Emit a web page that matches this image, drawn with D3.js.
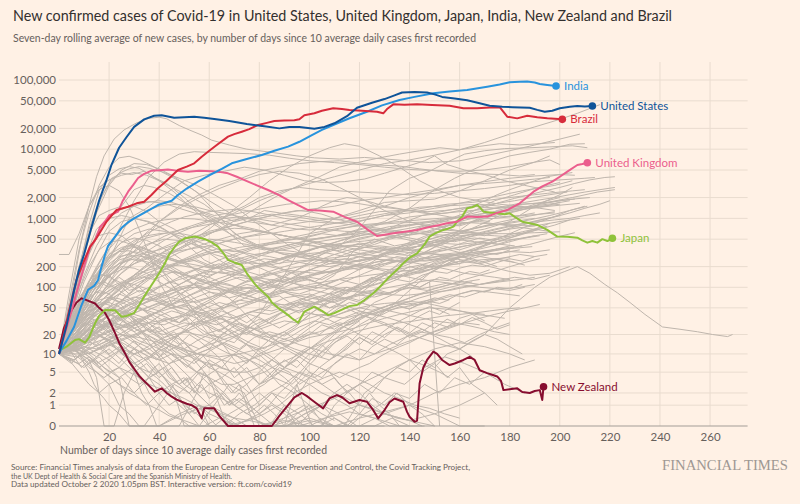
<!DOCTYPE html>
<html><head><meta charset="utf-8">
<script src="https://cdn.jsdelivr.net/npm/d3@7"></script>
<style>
html,body{margin:0;padding:0;background:#fff1e5;}
svg{display:block;font-family:Lato,'Noto Sans',sans-serif;}
</style></head><body>
<svg id="chart" width="800" height="504"></svg>
<script>
// ---------- text ----------
const titleText = "New confirmed cases of Covid-19 in United States, United Kingdom, Japan, India, New Zealand and Brazil";
const subtitleText = "Seven-day rolling average of new cases, by number of days since 10 average daily cases first recorded";
const xAxisTitle = "Number of days since 10 average daily cases first recorded";
const sourceLines = [
  "Source: Financial Times analysis of data from the European Centre for Disease Prevention and Control, the Covid Tracking Project,",
  "the UK Dept of Health & Social Care and the Spanish Ministry of Health.",
  "Data updated October 2 2020 1.05pm BST. Interactive version: ft.com/covid19"
];
const brandText = "FINANCIAL TIMES";

// ---------- ticks ----------
const xTicks = [20,40,60,80,100,120,140,160,180,200,220,240,260];
const yTicks = [0,1,2,5,10,20,50,100,200,500,1000,2000,5000,10000,20000,50000,100000];

// ---------- highlighted series: [day, 7-day avg cases] ----------
const countries = ["New Zealand","Japan","United Kingdom","India","Brazil","United States"];
const countryColors = ["#870d2f","#8fc23a","#eb5e8d","#2893dd","#d72b3b","#0f5499"];

const usData = [[0,10],[3,27],[6,90],[8,180],[10,300],[13,750],[16,1800],[19,3600],[21,6000],[24,10500],[27,15000],[30,21000],[34,27000],[38,30500],[41,31000],[46,28500],[50,29000],[54,29500],[58,28500],[62,27300],[68,25500],[75,23100],[82,21500],[88,20000],[92,21000],[96,21000],[102,19800],[106,21000],[110,23700],[115,30000],[119,39800],[125,47000],[130,53000],[134,60000],[137,66000],[142,67000],[147,66000],[150,62000],[153,57000],[158,54000],[163,51000],[168,46000],[172,42500],[177,41000],[181,40500],[188,39800],[191,37000],[194,34800],[197,36000],[200,39000],[204,41000],[207,42100],[210,41500],[213,42000]];

const indiaData = [[0,10],[1,12],[3,16],[6,26],[9,55],[11.6,92],[14,105],[15.6,128],[17,200],[18.4,300],[19.6,400],[22.4,545],[25,730],[28,900],[30,1000],[34,1200],[39.5,1560],[45,1800],[47.5,2180],[51,2700],[55.5,3390],[60,4200],[65,5200],[69,6250],[75,7200],[81,8240],[86,9500],[91.5,10900],[96,12800],[101,16000],[105,19000],[109.5,22400],[116,28000],[123,34800],[129,43000],[136,51400],[142,57000],[149.5,64300],[156,68000],[163,71700],[171,80000],[176,86000],[180,92500],[184,94000],[187,95000],[190,92000],[192,87600],[195,85000],[198.5,81900]];

const ukData = [[0,10],[3,25],[5,45],[7,83],[10,200],[12.4,386],[14.4,480],[16.4,750],[18.4,900],[20,1100],[23.6,1250],[25.5,1800],[27.6,2430],[29.5,3000],[31.6,3840],[34,4400],[37,4890],[40,4950],[43.5,5100],[47,4900],[51.5,4730],[56,4900],[61,4800],[64,4700],[67.5,4480],[71,4000],[75.5,3390],[79,3000],[83.5,2570],[87.5,2200],[91.5,1840],[95.5,1550],[99.5,1320],[104,1300],[109.5,1250],[114,1050],[119,895],[123,700],[127,556],[130,580],[133.5,608],[138,640],[143,680],[147,740],[152,803],[155,850],[159,895],[163,1060],[167,1050],[171,1060],[175,1200],[179,1320],[184,1650],[189.5,2430],[193,2900],[197,3390],[200,4000],[203,4730],[207,5910],[209,6100],[211,6380]];

const brazilData = [[0,10],[1.7,19],[4,45],[7,128],[9.5,220],[12.4,386],[15,520],[19,900],[21,1100],[23,1320],[25.5,1400],[27.6,1475],[31,1650],[34,1740],[37,2200],[39.5,2720],[43,3500],[47.5,5000],[51,5600],[54,6250],[57,7800],[59.5,9200],[63,11500],[67.5,15200],[70,16500],[73,17900],[76,19500],[79.5,22400],[83,24000],[86,25600],[90,26000],[94,26200],[96,27000],[98,31000],[102,33000],[105,36000],[109.5,39000],[113,38000],[116,36800],[121,36000],[127,34800],[129.5,33000],[131,38000],[133.5,44500],[138,44000],[143,44500],[149,43500],[156,42500],[161.5,39000],[167,39000],[172,40000],[176,40500],[179,29500],[183,27900],[187,30500],[191,29000],[195,27900],[198,27500],[201,27000]];

const japanData = [[0,10],[0.4,11.5],[3,13],[6.4,16.5],[8,17],[10.4,15],[12,18],[14.4,29.5],[16,38],[18.4,46.5],[22.4,46],[25,37],[27,38],[30,42],[32,55],[34,73],[36,95],[38.3,128],[40,160],[42.3,224],[44,300],[46.3,390],[48,460],[50.3,515],[54.3,545],[58.3,500],[61,450],[63.5,390],[66,300],[67.5,250],[70,230],[73,211],[75,160],[78,114],[80,95],[83.5,73],[85,60],[87.5,50],[91.5,39],[93,35],[95.5,30],[98,44],[102,52],[105,45],[107.5,39],[110,42],[113,47],[116,53],[119,55],[122,65],[125.5,82],[128,100],[132,143],[135,180],[137.5,224],[140,270],[143,312],[146,420],[148,545],[150,600],[153.5,680],[155,700],[157.5,758],[159,900],[161,1060],[163,1400],[165,1450],[167,1560],[168,1450],[169.5,1250],[172,1220],[175,1185],[178,1150],[180,1185],[182,1050],[185,895],[188,850],[191,803],[195,680],[199,545],[203,540],[207,525],[209,480],[211,445],[213,470],[215,445],[217,500],[219,470],[221,515]];

const nzData = [[0,12],[2,25],[5,46],[7,60],[9,69],[11,65],[14.4,58],[16,50],[18.4,42],[20,33],[22.4,21],[24,15],[26.4,10.2],[28,7.5],[30.4,5.4],[32,4.3],[34.3,3.37],[36,2.8],[38.3,2.13],[41,2.5],[43,2],[45,1.65],[47,1.4],[49,1.24],[51,1.1],[53,1],[55,0.8],[57,0.29],[58,0.8],[62,0.8],[64,0.4],[67.5,0],[72,0],[80,0],[85,0],[88,0.4],[91.5,1],[94,1.6],[97,2],[99,1.7],[101,1.38],[103,1.1],[105.5,0.8],[108,1.5],[111,1.8],[113,1.6],[116,1.13],[120,1.38],[123,1.24],[125,0.8],[127.5,0.29],[130,0.7],[132,1.2],[134,1.5],[137.5,1.24],[139,0.6],[140,0.36],[142,0.15],[143,0.2],[144,3.1],[145.5,6],[147,8],[149.5,10.9],[151,10],[153,8],[156,6.6],[158,7],[161.5,8],[164,9],[166,8],[168,5.4],[171,4.8],[173,4.5],[175,4.2],[176.5,3.5],[177.5,2.3],[180,2.4],[183,2.5],[185,2.1],[188,2.0],[190,2.2],[192,2.3],[192.5,1.8],[193,1.38],[193.5,2.7]];

const countrySeries = [nzData, japanData, ukData, indiaData, brazilData, usData];

// ---------- background countries: flat lists of day,value ----------
const greyLines = [
[0,10,3,30,6,120,9,500,12,1500,15,4000,18,8000,22,14000,26,19000,31,24000,36,28000,40,29000,43,27500,48,22000,52,19000,57,16000,61,13500,68,11500,75,10000,85,9000,95,8000,102,7500,112,7200,122,7600,135,7000,148,6400,160,6800,170,8000,180,9500,190,11500,200,14000,208,16500],
[0,10,4,40,8,200,12,700,16,1800,20,3200,24,4500,28,5200,32,5600,36,5300,42,4600,48,3800,55,3000,62,2200,70,1500,78,900,85,600,92,400,100,280,108,220,116,230,125,260,135,240,145,300,155,500,165,900,175,1300,185,1600,195,1700,205,2000,215,2400,222,2600],
[0,10,4,60,8,350,12,1200,16,3000,20,5500,24,7500,28,7900,32,7100,37,5800,42,4500,48,3500,55,2400,62,1300,70,600,80,380,90,300,100,260,110,350,118,600,125,1200,132,2500,140,3800,148,4800,155,6500,162,8500,170,9500,178,10200,188,10500,196,10800,205,11200,211,10500],
[0,10,5,50,9,250,13,800,17,2000,21,3800,25,4500,29,4300,34,4800,38,3900,43,3200,50,2000,58,1100,66,700,74,400,82,350,90,400,100,480,110,550,120,700,130,900,140,1400,150,2600,158,3800,165,5000,172,6500,180,8000,188,9000,196,10000,204,11800,210,12000],
[0,10,4,35,8,180,12,800,16,2500,20,4200,24,5200,28,5600,32,5300,36,4400,40,3500,46,2400,52,1500,58,1000,65,700,72,500,80,380,88,360,96,420,106,380,115,450,125,550,135,800,145,1100,155,1300,165,1500,175,1400,185,1600,195,1700,205,1900,212,2000],
[0,10,6,30,12,80,18,250,24,700,30,1800,36,4000,42,6500,48,8500,54,9200,60,9000,68,8800,76,8600,84,8200,92,7400,100,6800,110,6400,120,6000,130,5500,140,5100,150,4900,160,4800,170,5000,180,5600,190,6500,196,8000],
[0,10,4,50,8,200,12,600,16,1100,20,1300,25,1500,30,2600,34,3000,38,2800,44,2300,50,1700,56,1300,62,1100,68,1200,74,1500,80,2000,88,2500,96,2800,104,2600,112,2500,120,2400,130,2300,140,2200,150,2300,160,2500,170,2700,180,3000,190,3400,200,3600,210,3800,214,3900],
[0,10,4,80,8,500,12,1500,16,2800,20,3600,25,4200,30,4600,35,4200,40,3500,46,2700,52,2100,58,1600,64,1100,70,900,76,1000,82,1300,88,1200,96,1100,104,1000,112,950,120,1100,128,1250,136,1300,144,1450,152,1500,160,1550,168,1600,176,1500,180,1400,188,1450,196,1550,200,1600],
[0,10,8,25,16,70,24,200,32,500,40,900,48,1500,56,2200,64,3000,72,3700,80,4800,88,5500,96,6200,104,6600,112,6800,120,6300,128,5900,136,5700,144,5200,152,4800,160,4500,168,4400,176,4300,184,4100,190,4300],
[0,10,7,40,14,120,21,300,28,1000,35,1400,42,2200,50,3500,58,4200,66,4800,74,5500,82,5000,90,4200,98,3500,106,3300,114,3400,122,3700,130,4500,138,5500,146,6800,150,8000,155,6000,162,5000,170,4300,178,3500,186,3000,192,2700,198,2400],
[0,10,8,20,16,50,24,100,32,150,40,250,48,350,56,500,64,700,72,1000,80,1500,88,2200,96,3000,104,4000,112,5500,120,6500,128,7500,136,8500,144,9500,152,10500,160,9800,168,11000,176,12000,184,11500,192,12000,198,12500],
[0,10,10,25,20,70,30,150,40,300,50,500,60,800,70,1200,80,1800,90,2500,100,3200,110,4000,120,5000,130,6200,140,7000,150,8200,160,9800,170,12500,180,16500,190,21000,200,27000,207,33000,213,40000,216,44000],
[0,10,8,40,14,150,20,150,28,80,36,150,44,300,52,450,60,700,68,1200,76,2000,84,3500,92,5500,100,8000,108,10500,114,12000,120,11000,128,8000,136,5500,144,3500,152,2500,160,2000,168,1800,176,1600,184,1500,192,1400,198,1300],
[0,10,5,40,10,200,15,600,20,1100,25,1400,30,1500,35,1250,40,900,46,700,52,500,58,350,64,250,70,180,78,120,86,100,94,90,102,100,110,150,118,350,126,500,134,400,142,450,150,600,158,900,166,1300,174,1800,182,2200,190,2700,198,3000,205,3500],
[0,10,6,60,12,300,18,900,24,1300,30,1600,36,1750,42,1650,48,1400,54,1200,60,1050,66,800,72,550,80,400,88,320,96,300,104,320,112,380,120,420,128,380,136,330,144,360,152,420,160,600,168,800,176,1100,184,1300,192,1600,200,1800,206,1900],
[0,10,8,40,16,100,24,200,32,400,40,900,48,1400,56,2000,64,2700,72,3500,80,4300,88,4800,96,4500,104,3800,112,2800,120,2000,130,1300,140,900,150,700,160,650,170,600,180,600,190,620,200,640],
[0,10,10,20,20,50,30,150,40,300,50,450,60,650,70,800,80,1000,90,1200,100,1350,110,1500,120,1800,130,2000,140,2300,150,2600,160,3000,170,3400,180,3800,190,4100,200,4300,206,4200],
[0,10,5,50,10,250,15,550,20,620,25,560,30,400,40,200,50,60,60,20,70,15,80,40,90,150,100,600,110,1000,120,1300,130,1700,140,1800,150,1900,160,2500,170,3500,180,5000,190,6500,196,7000,200,6000],
[0,10,10,40,20,150,30,220,40,300,50,350,60,400,70,500,80,600,90,800,100,900,110,1000,120,1200,130,1500,140,2000,150,2500,160,3000,170,3200,180,3400,190,3700,196,3900],
[0,10,5,50,10,250,15,700,20,1000,25,1100,30,1000,36,900,42,700,50,450,58,250,66,180,74,150,82,120,92,80,100,70,110,60,120,80,130,150,140,300,150,450,160,600,170,700,180,900,190,1500,200,2200,205,2800],
[0,10,6,25,12,60,18,140,24,220,30,260,36,230,42,190,50,150,58,120,66,90,74,70,82,60,90,55,98,70,106,90,114,120,122,160,130,210,138,260,146,320,154,350,162,400,170,430,178,480,186,520,192,560],
[0,10,7,30,14,80,21,180,28,300,35,420,42,500,50,470,58,380,66,300,74,240,82,180,90,130,98,100,106,110,114,140,122,200,130,300,138,420,146,550,154,700,162,850,170,1000,178,1200,186,1350,194,1500,200,1700],
[0,10,5,20,10,45,15,90,20,150,25,200,30,190,35,160,40,120,46,90,52,70,58,45,64,30,70,20,76,15,82,12,88,18,94,25,100,40,108,65,116,90,124,120,132,140,140,150,148,180,156,220,164,260,172,300,180,330,188,320,196,350],
[0,10,8,15,16,30,24,60,32,110,40,170,48,230,56,290,64,330,72,380,80,420,88,470,96,520,104,600,112,700,120,800,128,850,136,900,144,950,152,1000,160,1050,168,1100,176,1050,184,1100,190,1200],
[0,10,6,18,12,35,18,60,24,90,30,140,36,190,42,250,48,320,54,380,60,450,66,520,72,600,78,650,84,620,90,560,98,480,106,400,114,350,122,300,130,280,138,260,146,240,154,260,162,280,170,300,178,320,184,350],
[0,10,5,15,10,30,15,50,20,70,25,60,30,50,35,60,40,75,46,100,52,130,58,170,64,200,70,250,78,300,86,330,94,380,102,450,110,500,118,550,126,600,134,650,142,620,150,560,158,500,166,460,174,430,182,400],
[0,10,4,20,8,45,12,90,16,150,20,220,24,280,28,300,32,260,36,210,40,160,45,110,50,70,55,40,60,25,65,15,70,8,75,5,80,3,86,4,92,3,98,6,104,12,110,20,118,35,126,60,134,80,142,120,150,180,158,250,166,350,174,450,182,550,190,700,196,850],
[0,10,5,25,10,70,15,150,20,300,25,450,30,520,35,480,40,400,46,300,52,210,58,140,64,90,70,60,76,35,82,22,88,15,94,12,100,10,108,8,116,15,124,30,132,50,140,90,148,160,156,230,164,320,172,450,180,600,188,800,196,1000,204,1300,210,1500],
[0,10,8,12,16,25,24,40,32,55,40,70,48,90,56,120,64,170,72,240,80,300,88,380,96,450,104,520,112,560,120,600,128,580,136,520,144,450,152,380,160,320,168,280,176,250,182,230],
[0,10,6,20,12,40,18,70,24,110,30,150,36,180,42,200,48,210,54,190,60,170,66,160,72,180,78,200,84,220,90,260,96,300,102,360,108,420,114,500,120,600,126,680,132,760,138,800,144,820,150,780,156,700,162,640,168,600],
[0,10,4,25,8,60,12,120,16,200,20,280,24,330,28,340,32,300,36,250,40,190,44,140,50,90,56,60,62,45,68,30,74,22,80,18,86,15,92,18,98,25,104,35,110,50,116,70,122,100,128,140,134,180,140,220,146,260,152,280,158,260,164,240,172,200,180,170,188,150,196,160,204,200],
[0,10,10,14,20,22,30,30,40,45,50,70,60,100,70,150,80,200,90,230,100,250,110,270,120,300,130,350,140,380,150,420,160,500,170,600,180,700,190,780,200,900,208,1000],
[0,10,5,30,10,80,15,160,20,260,25,350,30,380,35,330,40,280,46,240,52,220,58,200,64,190,70,210,76,250,82,300,88,350,94,330,100,290,108,250,116,260,124,300,132,360,140,420,148,500,156,600,164,700,172,800,180,850,188,950,196,1100,204,1300,211,1500],
[0,10,7,12,14,20,21,30,28,25,35,35,42,50,49,80,56,130,63,200,70,280,77,350,84,420,91,450,98,430,105,380,112,330,119,280,126,260,133,240,140,230,147,250,154,270,161,300,168,330,175,360],
[0,10,5,15,10,25,15,40,20,50,25,45,30,40,35,35,40,30,45,35,50,40,55,50,60,60,66,80,72,110,78,140,84,170,90,200,96,230,102,250,108,240,114,220,120,200,128,180,136,150,144,130,152,120,160,110,168,100,176,95,184,100,190,110],
[0,10,6,15,12,25,18,40,24,60,30,90,36,130,42,180,48,240,54,300,60,380,66,460,72,520,78,560,84,600,90,650,96,700,102,760,108,820,114,900,120,1000,126,1100,132,1200,138,1300,144,1250,150,1150,156,1050,162,1000,168,980,174,1000,180,1050,186,1100,192,1150,198,1200],
[0,10,5,20,10,40,15,70,20,100,25,120,30,110,35,95,40,80,45,70,50,65,55,60,60,70,65,85,70,100,75,120,80,140,85,160,90,180,96,200,102,220,108,240,114,230,120,210,126,190,132,180,138,190,144,210,150,240,156,280,162,330,168,390,174,450,180,520,186,600,192,700,198,800,204,950],
[0,10,8,10,16,14,24,20,32,30,40,45,48,65,56,90,64,120,72,160,80,210,88,260,96,320,104,380,112,400,120,390,128,360,136,330,144,310,152,300,160,320,168,360,176,420,184,500,190,560],
[0,10,4,30,8,90,12,200,16,350,20,450,24,480,28,430,32,350,36,280,40,220,45,170,50,130,56,100,62,80,68,70,74,80,80,100,86,130,92,160,98,200,104,250,110,300,116,350,122,380,128,400,134,380,140,350,146,320,152,300,158,290,164,300,170,320,176,350,182,380,188,420,194,480,200,550,206,620],
[0,10,6,12,12,18,18,26,24,36,30,50,36,65,42,80,48,100,54,110,60,120,66,110,72,100,78,95,84,100,90,120,96,150,102,190,108,240,114,300,120,360,126,420,132,500,138,560,144,600,150,640,156,620,162,600,168,580,174,560,180,540],
[0,10,5,35,10,120,15,300,20,650,25,900,30,1000,35,900,40,750,45,600,50,480,56,380,62,300,68,260,74,230,80,220,86,240,92,280,98,330,104,380,110,420,116,450,122,470,128,500,134,560,140,650,146,780,152,900,158,1050,164,1250,170,1450,176,1700,182,1950,188,2200,194,2500,200,2800,206,3200,212,3600,218,3900,222,4000],
[0,10,6,25,12,70,18,160,24,250,30,290,36,270,42,220,48,160,54,110,60,70,66,45,72,30,78,20,84,18,90,22,96,30,102,45,108,60,114,80,120,110,126,140,132,180,138,230,144,300,150,380,156,460,162,520,168,600,174,680,180,760,186,850,192,950,198,1050,204,1200,210,1400,216,1600,220,1800],
[0,10,3,15,6,25,9,35,12,40,15,38,18,30,21,22,24,15,27,10,30,6,33,4,36,2,40,1,44,0.5,48,0.3,52,0,58,0,64,0.3,70,0,80,0,90,0.2,100,0,110,0.5,120,1,130,0.5,140,0.2,150,0],
[0,10,4,20,8,35,12,50,16,60,20,55,24,45,28,35,32,25,36,18,40,12,45,8,50,5,55,3,60,2,65,1.5,70,1,76,2,82,3,88,5,94,8,100,12,106,18,112,25,118,30,124,40,130,45,136,50,142,55,148,60,154,70,160,80,166,90,172,85,178,80,184,75],
[0,10,5,12,10,18,15,25,20,30,25,28,30,22,35,15,40,10,45,6,50,3,55,2,60,1,65,0.6,70,0.3,75,0,85,0,95,0.3,105,1,110,2,115,3,120,2,125,1,130,0.5,140,0.2,150,0.5,160,1,170,2,175,1],
[0,10,4,14,8,20,12,28,16,33,20,30,24,26,28,20,32,16,36,14,40,12,45,10,50,9,55,10,60,12,66,15,72,20,78,28,84,35,90,45,96,55,102,60,108,65,114,70,120,80,126,90,132,100,138,110,144,120,150,130,156,125,162,120,168,130],
[0,10,3,12,6,13,9,11,12,9,15,7,18,5,21,4,24,3,28,2,32,1.5,36,1,40,0.7,44,0.4,50,0.2,56,0,66,0,76,0.2,86,0,96,0,106,0.3,116,0.6,126,0.3,136,0,146,0],
[0,10,4,18,8,30,12,45,16,55,20,60,24,52,28,40,32,30,36,22,40,18,45,14,50,12,55,10,60,9,65,8,70,7,76,8,82,10,88,12,94,15,100,18,106,20,112,22,118,25,124,30,130,35,136,40,142,45,148,50,154,48,160,45,166,40,172,38,178,35],
[0,10,5,12,10,15,15,18,20,22,25,25,30,28,35,30,40,32,45,35,50,38,55,40,60,45,65,50,70,55,75,60,80,70,85,80,90,90,95,100,100,110,106,120,112,130,118,140,124,150,130,160,136,170,142,180,148,200,154,210,160,220],
[0,10,3,11,6,10,9,8,12,6,15,5,18,4,21,5,24,6,27,8,30,10,34,12,38,15,42,18,46,20,50,22,55,20,60,18,65,15,70,12,75,10,80,8,85,6,90,5,95,4,100,3,105,2,110,1.5,115,1,120,0.5,126,0.3,132,0,140,0],
[0,10,4,22,8,40,12,70,16,90,20,80,24,60,28,40,32,25,36,15,40,9,44,5,48,3,52,2,56,1,60,0.5,66,0.2,72,0,80,0,90,0.3,100,0.8,110,1.5,120,3,130,5,140,8,150,12,160,15,170,13,180,10,186,8],
[0,10,6,14,12,20,18,28,24,40,30,55,36,70,42,85,48,95,54,100,60,95,66,90,72,80,78,70,84,60,90,55,96,60,102,70,108,80,114,90,120,100,126,110,132,130,138,150,144,170,150,190,156,210,162,230,168,250,174,260,180,270],
[0,10,2,13,4,16,6,14,8,10,10,7,12,5,14,3,16,2,18,1.5,20,1,24,0.5,28,0,40,0,50,0.5,60,1,64,0.5,70,0,80,0,90,0,100,0.2,110,0],
[0,10,5,20,10,35,15,45,20,40,25,32,30,25,35,20,40,16,45,13,50,10,55,8,60,7,65,6,70,5,75,5,80,6,85,8,90,12,95,18,100,25,105,32,110,38,115,45,120,50,125,55,130,58,135,60,140,62,145,60,150,55,155,50,160,45,165,42,170,40],
[0,10,8,12,16,16,24,20,32,18,40,15,48,12,56,10,64,9,72,10,80,12,88,15,96,18,104,22,112,28,120,35,128,45,136,55,144,70,152,85,160,100,168,110,176,120,184,130,190,140],
[0,10,4,12,8,14,12,12,16,10,20,8,24,6,28,5,32,4,36,3,40,2.5,45,2,50,1.5,55,1,60,0.8,65,0.5,70,0.3,76,0.2,82,0.5,88,1,94,2,100,3,106,4,112,5,118,4,124,3,130,2,136,1.5,142,1,148,0.8,154,0.5,160,0.3],
[0,10,3,18,6,28,9,38,12,45,15,48,18,45,21,40,24,35,27,30,30,25,34,20,38,15,42,12,46,9,50,7,55,5,60,4,65,3,70,3,76,4,82,5,88,7,94,9,100,12,106,15,112,18,118,22,124,25,130,28,136,30,142,32,148,35,154,38,160,40,166,42,172,45,178,48,184,50],
[0,300,4,300,8,600,12,1500,16,2600,20,3000,24,2500,28,1500,32,700,36,300,40,120,46,50,52,30,58,20,66,25,74,40,82,50,90,70,100,80,110,60,120,40,130,30,140,20,150,15,160,12,170,20,180,50,190,100,196,140,202,170,207,200,212,160,218,110,223,83,228,60,234,40,241,26,248,24,255,22,261,20,267,18.6,269,20],
[0,10,5,18,10,30,15,25,20,40,25,35,30,22,35,28,40,18,45,12,50,15,55,9,60,6,65,8,70,4,75,6,80,3,85,5,90,8,95,6,100,10,105,14,110,9,115,12,120,18,125,14,130,20,135,25,140,18,145,22,150,30,155,26,160,35,165,40,170,32],
[0,10,4,25,8,50,12,90,16,120,20,100,24,140,28,110,32,85,36,100,40,70,45,55,50,65,55,40,60,30,65,35,70,25,75,20,80,28,85,35,90,45,95,60,100,50,105,70,110,90,115,80,120,110,125,140,130,120,135,160,140,200,145,180,150,230,155,260,160,220,165,280,170,320,175,300,180,350],
[0,10,6,8,12,12,18,15,24,20,30,18,36,25,42,35,48,30,54,45,60,60,66,50,72,75,78,90,84,80,90,110,96,140,102,120,108,160,114,200,120,180,126,230,132,260,138,220,144,280,150,250,156,300,162,270,168,230,174,260,180,240,186,210],
[0,10,5,15,10,12,15,20,20,16,25,10,30,7,35,9,40,5,45,3,50,4,55,2,60,1,65,2,70,1,75,0.5,80,1,85,2,90,1,95,0,100,0.5,105,1,110,0.3,115,0,120,0.5,125,1.5,130,1,135,2,140,1,145,0.5,150,0],
[0,10,4,20,8,45,12,80,16,130,20,180,24,220,28,260,32,240,36,280,40,300,45,260,50,230,55,250,60,210,65,180,70,200,75,170,80,150,85,160,90,140,95,120,100,130,105,110,110,95,115,100,120,85,125,90,130,110,135,130,140,120,145,150,150,170,155,160,160,190,165,210,170,200,175,230,180,260,185,240,190,280,195,300],
[0,10,3,12,6,18,9,15,12,22,15,30,18,25,21,35,24,40,27,32,30,28,34,35,38,25,42,18,46,22,50,15,55,10,60,12,65,8,70,10,75,14,80,12,85,18,90,22,95,16,100,20,105,28,110,24,115,32,120,40,125,35,130,45,135,55,140,48,145,60,150,70,155,65,160,80,165,90,170,85,175,100,180,95,185,110],
[0,10,7,22,14,40,21,75,28,120,35,160,42,200,49,240,56,300,63,360,70,330,77,380,84,420,91,480,98,520,105,600,112,560,119,620,126,700,133,650,140,720,147,800,154,760,161,850,168,900,175,820,182,760,189,700,196,650],
[0,10,5,14,10,8,15,5,20,3,25,4,30,2,35,1,40,2,45,3,50,1,55,0.5,60,0,70,0,80,0.5,85,1,90,0.5,95,0,105,0,110,1,115,2,120,3,125,2,130,4,135,6,140,5,145,8,150,6,155,10,160,12,165,9],
[0,10,4,30,8,70,12,110,16,160,20,140,24,120,28,90,32,100,36,75,40,60,45,50,50,55,55,40,60,35,65,45,70,38,75,30,80,40,85,55,90,45,95,60,100,75,105,65,110,80,115,100,120,90,125,120,130,150,135,130,140,170,145,210,150,190,155,240,160,280,165,260,170,230,175,200],
[0,10,6,16,12,25,18,35,24,45,30,60,36,80,42,70,48,90,54,110,60,95,66,120,72,140,78,130,84,150,90,170,96,160,102,190,108,220,114,260,120,240,126,280,132,330,138,300,144,360,150,420,156,380,162,450,168,520,174,480,180,550,186,620,192,700],
[0,10,4,12,8,16,12,20,16,14,20,10,24,13,28,8,32,6,36,5,40,7,44,4,48,3,52,4,56,2,60,3,64,2,68,1,72,1.5,76,1,80,0.5,86,0,92,0.5,98,1,104,0.3,110,0,116,0,122,0.5,128,1,134,2,140,1.5,146,3,152,2,158,4,164,3,170,5,176,4],
[0,10,5,35,10,90,15,180,20,300,25,380,30,420,35,360,40,300,45,250,50,220,55,180,60,150,65,170,70,140,75,120,80,130,85,110,90,100,95,120,100,140,105,130,110,160,115,190,120,220,125,200,130,240,135,280,140,260,145,300,150,340,155,380,160,350,165,400,170,450,175,420,180,480,185,520,190,560,195,600],
[0,10,6,12,12,10,18,14,24,18,30,25,36,30,42,28,48,35,54,45,60,40,66,55,72,65,78,60,84,75,90,85,96,70,102,60,108,50,114,55,120,45,126,40,132,35,138,30,144,25,150,20,156,18,162,15,168,20,174,25,180,30],
[0,10,4,15,8,22,12,35,16,50,20,65,24,80,28,70,32,60,36,50,40,45,44,38,48,30,52,35,56,25,60,20,64,15,68,12,72,10,76,8,80,6,84,4,88,6,92,5,96,3,100,4,104,6,108,8,112,10,116,14,120,18,124,15,128,20,132,26,136,22,140,30,144,38,148,45,152,40,156,50,160,60],
[0,10,5,30,10,60,15,100,20,150,25,220,30,280,35,320,40,350,45,400,50,460,55,520,60,600,65,700,70,800,75,900,80,1000,85,1100,90,1200,95,1300,100,1250,105,1150,110,1000,115,900,120,800,125,700,130,650,135,600,140,580,145,620,150,700,155,800,160,900,165,1000,170,1100,175,1200,180,1300,185,1400,190,1600,195,1800,200,2000],
[0,10,8,14,16,25,24,35,32,50,40,40,48,30,56,45,64,60,72,50,80,70,88,90,96,80,104,100,112,130,120,110,128,150,136,180,144,160,152,200,160,240,168,220,176,260,184,300,190,280],
[0,10,3,14,6,20,9,26,12,30,15,28,18,24,21,20,24,16,27,12,30,9,33,7,36,5,39,4,42,3,45,2,48,1.5,51,1,54,0.5,57,0.8,60,0.3,63,0,70,0,77,0.3,84,0,91,0,98,0.5,105,1,112,0.5,119,0,126,0,133,0.3,140,0],
[0,10,5,12,10,16,15,14,20,20,25,26,30,32,35,28,40,38,45,45,50,40,55,52,60,65,65,80,70,95,75,85,80,110,85,130,90,120,95,150,100,180,105,170,110,200,115,240,120,280,125,260,130,320,135,380,140,350,145,420,150,480,155,460,160,520,165,600,170,560,175,640,180,720,185,800,190,900,195,1000,200,1100],
[0,10,4,18,8,28,12,40,16,55,20,70,24,60,28,75,32,90,36,80,40,100,44,120,48,110,52,130,56,150,60,140,64,120,68,110,72,95,76,100,80,85,84,70,88,75,92,60,96,50,100,55,104,45,108,40,112,50,116,60,120,55,124,70,128,85,132,80,136,95,140,110,144,100,148,120,152,140,156,130,160,150,164,170,168,160,172,180],
[0,10,6,20,12,35,18,55,24,80,30,110,36,140,42,180,48,220,54,260,60,310,66,350,72,330,78,300,84,280,90,250,96,230,102,210,108,200,114,220,120,250,126,280,132,320,138,360,144,400,150,450,156,500,162,560,168,620,174,700,180,780,186,850,192,900,198,950,204,1000,210,1100,216,1200],
[0,10,5,8,10,6,15,9,20,12,25,8,30,5,35,7,40,4,45,6,50,3,55,5,60,8,65,6,70,10,75,7,80,12,85,9,90,6,95,8,100,5,105,3,110,4,115,2,120,3,125,5,130,4,135,6,140,8,145,5,150,7,155,4,160,6,165,3,170,2],
[0,10,4,16,8,24,12,30,16,36,20,42,24,48,28,55,32,62,36,70,40,65,44,58,48,50,52,55,56,48,60,42,64,36,68,30,72,26,76,22,80,26,84,30,88,35,92,40,96,46,100,52,104,60,108,70,112,80,116,95,120,110,124,125,128,140,132,160,136,150,140,170,144,190,148,210,152,230,156,250,160,270],
[0,10,7,25,14,60,21,130,28,250,35,400,42,550,49,700,56,850,63,1000,70,1150,77,1300,84,1450,91,1600,98,1700,105,1800,112,1750,119,1650,126,1500,133,1400,140,1300,147,1250,154,1300,161,1400,168,1500,175,1650,182,1800,189,2000,196,2200,203,2400],
[0,10,6,14,12,20,18,18,24,14,30,10,36,12,42,16,48,20,54,25,60,32,66,40,72,50,78,60,84,72,90,85,96,100,102,90,108,80,114,70,120,60,126,52,132,45,138,40,144,36,150,32,156,30,162,28,168,25,174,22,180,20],
[0,10,3,22,6,40,9,65,12,90,15,110,18,120,21,105,24,90,27,75,30,60,34,45,38,35,42,25,46,18,50,12,54,8,58,5,62,3,66,2,70,1,74,0.6,78,0.3,82,0,90,0,100,0,110,0,120,0.3,130,0.6,140,1,150,2,160,3,170,4,180,6,190,8],
[0,10,5,20,10,35,15,55,20,80,25,110,30,150,35,200,40,260,45,330,50,400,55,460,60,500,65,480,70,450,75,420,80,380,85,340,90,300,95,280,100,260,105,250,110,240,115,230,120,240,125,260,130,300,135,350,140,400,145,460,150,520,155,580,160,650,165,700,170,760,175,820,180,880,185,940,190,1000],
[0,10,5,11,10,13,15,12,20,14,25,17,30,20,35,24,40,22,45,26,50,30,55,28,60,33,65,38,70,35,75,42,80,48,85,45,90,52,95,60,100,56,105,64,110,72,115,68,120,76,125,85,130,80,135,90,140,100,145,95,150,105,155,115,160,110,165,120],
[0,10,4,20,8,38,12,55,16,65,20,72,24,68,28,60,32,50,36,42,40,35,44,30,48,26,52,22,56,18,60,15,64,12,68,10,72,9,76,8,80,10,84,12,88,15,92,14,96,18,100,22,104,20,108,26,112,30,116,28,120,35,124,40,128,38,132,45,136,52,140,48,144,56,148,62,152,58,156,66],
[0,10,6,30,12,90,18,220,24,420,30,600,36,700,42,650,48,560,54,480,60,400,66,330,72,270,78,230,84,200,90,180,96,170,102,160,108,170,114,190,120,220,126,260,132,300,138,350,144,400,150,480,156,560,162,650,168,750,174,850,180,950,186,1050,192,1150,198,1250],
[0,10,4,8,8,5,12,3,16,2,20,3,24,1,28,0.5,32,0,40,0,48,0.5,56,1,64,0.5,72,0,80,0,90,0,100,0.3,110,0,120,0,130,0.5,140,1,150,0.5,160,0,170,0],
[0,10,5,18,10,14,15,22,20,30,25,40,30,50,35,45,40,55,45,65,50,60,55,72,60,85,65,80,70,95,75,110,80,100,85,120,90,140,95,130,100,150,105,170,110,160,115,185,120,210,125,190,130,220,135,250,140,230,145,260,150,300,155,280,160,310,165,350,170,320,175,360,180,400],
[0,10,6,25,12,50,18,80,24,110,30,130,36,150,42,170,48,160,54,140,60,120,66,100,72,85,78,70,84,60,90,50,96,45,102,40,108,38,114,35,120,40,126,45,132,55,138,65,144,80,150,95,156,110,162,130,168,150,174,170,180,200,186,230,192,260],
[0,10,3,11,6,14,9,18,12,16,15,13,18,11,21,9,24,7,27,10,30,12,33,9,36,7,39,5,42,6,45,4,48,3,51,4,54,2,57,3,60,1.5,63,2,66,1,70,1.5,74,1,78,0.5,82,1,86,0.5,90,0,95,0.5,100,1,105,0.5,110,0.2],
[0,10,5,40,10,150,15,400,20,800,25,1200,30,1500,35,1700,40,1800,45,1700,50,1500,55,1300,60,1100,65,950,70,800,75,700,80,650,85,600,90,560,95,520,100,500,105,520,110,560,115,600,120,680,125,760,130,850,135,950,140,1050,145,1100,150,1150,155,1200,160,1250,165,1300,170,1350,175,1400,180,1450,185,1500],
[0,10,8,18,16,30,24,48,32,70,40,100,48,140,56,190,64,250,72,320,80,400,88,480,96,560,104,640,112,720,120,780,128,820,136,860,144,880,152,900,160,880,168,850,176,820,184,800,190,780],
[0,10,4,12,8,15,12,18,16,22,20,19,24,16,28,13,32,11,36,9,40,8,44,7,48,8,52,10,56,12,60,14,64,16,68,18,72,20,76,22,80,19,84,16,88,13,92,11,96,9,100,7,104,6,108,5,112,4,116,5,120,6,124,7,128,9,132,11,136,13,140,15,144,18,148,21,152,24,156,27,160,30],
[0,10,5,22,10,50,15,110,20,200,25,320,30,450,35,600,40,750,45,900,50,1050,55,1150,60,1250,65,1300,70,1350,75,1300,80,1200,85,1100,90,1000,95,950,100,900,105,870,110,850,115,880,120,920,125,1000,130,1100,135,1200,140,1300,145,1400,150,1500,155,1600,160,1650,165,1700,170,1800,175,1900,180,2000,185,2100,190,2200,195,2300,200,2400,205,2500,210,2600],
[0,10,6,15,12,10,18,6,24,4,30,6,36,9,42,14,48,20,54,28,60,38,66,50,72,64,78,80,84,96,90,112,96,130,102,150,108,170,114,190,120,210,126,230,132,250,138,240,144,220,150,200,156,180,162,160,168,150,174,140,180,130],
[0,10,4,10,8,12,12,9,16,7,20,5,24,6,28,4,32,3,36,4,40,2,44,1,48,1.5,52,0.5,56,1,60,0,66,0,72,0.5,78,1,84,2,90,3,96,5,102,4,108,6,114,9,120,12,126,10,132,14,138,18,144,22,150,20,156,25,162,30,168,28],
[0,10,5,28,10,70,15,140,20,240,25,360,30,480,35,560,40,600,45,620,50,590,55,540,60,480,65,420,70,360,75,300,80,250,85,210,90,180,95,150,100,130,105,110,110,100,115,90,120,95,125,105,130,120,135,140,140,160,145,180,150,210,155,240,160,270,165,300,170,330,175,360,180,380,185,400],
[0,10,7,13,14,18,21,24,28,30,35,38,42,46,49,55,56,65,63,76,70,88,77,100,84,115,91,130,98,145,105,160,112,175,119,190,126,210,133,230,140,250,147,270,154,290,161,310,168,330,175,350,182,370,189,390],
[0,10,4,14,8,20,12,26,16,32,20,38,24,44,28,38,32,30,36,24,40,19,44,15,48,12,52,10,56,8,60,6,64,5,68,4,72,3,76,2,80,3,84,4,88,5,92,7,96,9,100,12,104,15,108,19,112,24,116,30,120,36,124,42,128,48,132,55,136,62,140,70,144,78,148,85,152,92,156,100,160,108],
[0,10,5,13,10,17,15,22,20,28,25,35,30,42,35,50,40,58,45,50,50,42,55,35,60,28,65,22,70,18,75,14,80,11,85,8,90,6,95,5,100,4,105,3,110,2,115,1.5,120,1,125,0.8,130,0.5,135,0.3,140,0.2,145,0],
[0,10,6,35,12,120,18,300,24,520,30,700,36,850,42,950,48,1000,54,980,60,920,66,850,72,780,78,700,84,620,90,560,96,500,102,450,108,420,114,400,120,420,126,460,132,520,138,600,144,700,150,820,156,950,162,1100,168,1250,174,1400,180,1550,186,1700,192,1850,198,2000,204,2200,210,2400,216,2600,222,2800],
[0,10,5,12,10,9,15,7,20,9,25,12,30,10,35,8,40,11,45,14,50,12,55,16,60,20,65,18,70,22,75,26,80,24,85,28,90,32,95,30,100,35,105,40,110,38,115,44,120,50,125,46,130,52,135,58,140,55,145,62,150,68],
[0,10,3,14,6,9,9,6,12,8,15,4,18,0,22,0,26,2,30,5,34,3,38,6,42,4,46,2,50,0,56,0,62,1,68,3,74,2,80,0],
[0,10,4,16,8,22,12,18,16,26,20,34,24,28,28,38,32,30,36,22,40,26,44,18,48,14,52,20,56,16,60,12,64,18,68,24,72,20,76,28,80,34,84,30,88,40,92,48,96,42,100,55,104,62,108,50,112,58,116,70,120,64,124,78,128,90,132,82,136,96,140,110,144,100,148,120,152,0],
[0,10,5,7,10,12,15,9,20,14,25,11,30,16,35,13,40,9,45,12,50,8,55,5,60,7,65,4,70,6,75,3,80,5,85,8,90,6,95,10,100,13,105,9,110,15,115,19,120,14,125,22,130,18,135,26,140,21,145,30,150,25,155,34,160,28,165,36,170,30,175,24,180,28],
[0,10,3,20,6,35,9,50,12,70,15,85,18,80,21,95,24,110,27,100,30,120,34,140,38,130,42,150,46,170,50,160,54,180,58,200,62,185,66,210,70,230,74,220,78,240,82,260,86,250,90,270,94,290,98,280,102,300,106,320,110,300,114,280,118,300,122,320,126,350,130,380,134,360,138,400,142,430,146,410,150,450,154,480,158,460,162,500,166,520,170,500],
[0,10,6,12,12,8,18,5,24,3,30,2,36,4,42,6,48,9,54,7,60,11,66,15,72,12,78,18,84,22,90,19,96,26,102,32,108,28,114,36,120,44,126,40,132,50,138,60,144,55,150,66,156,78,162,72,168,85,174,95,180,90,186,100],
[0,10,4,25,8,55,12,100,16,170,20,260,24,340,28,400,32,380,36,340,40,300,44,270,48,240,52,260,56,230,60,200,64,220,68,190,72,170,76,190,80,210,84,240,88,220,92,260,96,300,100,280,104,320,108,360,112,340,116,390,120,440,124,420,128,480,132,540,136,520,140,590,144,660,148,640,152,720,156,800,160,780,164,860,168,940,172,900],
[0,10,5,15,10,22,15,30,20,26,25,20,30,15,35,11,40,8,45,10,50,7,55,5,60,3,65,4,70,2,75,3,80,1,85,2,90,1.5,95,3,100,5,105,4,110,7,115,10,120,8,125,13,130,17,135,14,140,20,145,24,150,19,155,15,160,12,165,16,170,20,175,17,180,13,185,10],
[0,10,3,12,6,15,9,19,12,24,15,21,18,17,21,14,24,11,27,9,30,12,33,15,36,19,39,16,42,13,45,11,48,8,51,6,54,8,57,10,60,7,63,5,66,3,69,2,72,3,75,1,78,0,84,0,90,1,96,0.5,102,0],
[0,10,5,20,10,45,15,90,20,180,25,300,30,420,35,520,40,580,45,640,50,700,55,760,60,820,65,880,70,950,75,1020,80,1080,85,1150,90,1100,95,1050,100,980,105,920,110,870,115,820,120,780,125,740,130,700,135,660,140,630,145,600,150,580,155,570,160,560,165,580,170,600,175,640,180,700],
[0,10,7,9,14,11,21,14,28,18,35,23,42,20,49,26,56,32,63,28,70,36,77,44,84,40,91,50,98,60,105,55,112,66,119,78,126,72,133,85,140,98,147,90,154,105,161,120,168,110,175,125,182,140,189,130,196,150],
[0,10,4,14,8,10,12,7,16,9,20,6,24,4,28,0,34,0,40,1,46,3,52,2,58,4,64,6,70,5,76,8,82,6,88,3,94,2,100,1,106,0,114,0,122,2,130,4,138,3,146,6,154,9,162,7,170,5,178,3,186,2],
[0,10,5,30,10,90,15,200,20,400,25,700,30,1000,35,1300,40,1500,45,1600,50,1550,55,1450,60,1300,65,1200,70,1100,75,1000,80,900,85,800,90,750,95,700,100,680,105,700,110,750,115,800,120,900,125,1000,130,1100,135,1150,140,1200,145,1300,150,1400,155,1500,160,1650,165,1800,170,1950,175,2100,180,2300,185,2500,190,2700,195,3000,200,3300],
[0,10,4,12,8,17,12,23,16,30,20,38,24,46,28,40,32,34,36,29,40,24,44,20,48,17,52,14,56,12,60,15,64,19,68,24,72,30,76,26,80,22,84,18,88,15,92,12,96,10,100,8,104,10,108,13,112,17,116,22,120,28,124,34,128,30,132,26,136,32,140,38,144,45,148,52,152,46,156,40],
[0,10,6,20,12,32,18,48,24,60,30,72,36,66,42,58,48,50,54,44,60,38,66,33,72,28,78,24,84,20,90,17,96,14,102,12,108,10,114,9,120,8,126,10,132,12,138,15,144,18,150,22,156,26,162,30,168,35,174,40,180,45,186,50,192,56],
[0,10,3,15,6,22,9,30,12,36,15,32,18,26,21,20,24,14,27,9,30,5,33,2,36,1,39,0,48,0,55,2,58,5,61,3,64,1,67,0,80,0,90,0,95,3,98,1,101,0,120,0,130,0],
[0,10,5,20,10,40,15,70,20,110,25,160,30,220,35,290,40,360,45,430,50,500,55,560,60,620,65,680,70,720,75,700,80,650,85,600,90,560,95,520,100,480,105,440,110,410,115,380,120,350,125,330,130,310,135,300,140,290,145,300,150,320,155,350,160,380,165,420,170,470,175,520,180,580,185,640,190,700,195,770],
[0,10,4,11,8,13,12,10,16,12,20,15,24,18,28,14,32,11,36,9,40,12,44,16,48,20,52,25,56,30,60,26,64,22,68,28,72,34,76,40,80,36,84,30,88,25,92,30,96,36,100,42,104,38,108,33,112,28,116,24,120,20,124,17,128,14,132,12,136,10,140,8,144,7,148,6,152,5,156,4],
[0,10,5,50,10,300,15,1200,20,3000,25,5000,30,6200,35,6000,40,5200,45,4200,50,3200,55,2400,60,1800,65,1400,70,1100,75,900,80,850,85,800,90,900,95,1000,100,1200,105,1500,110,1800,115,2000,120,1900,125,1700,130,1500,135,1400,140,1300,145,1200,150,1150,155,1200,160,1300,165,1500,170,1800,175,2200,180,2600,185,3000,190,3500,195,4000,200,4300,205,4600],
[0,10,8,15,16,22,24,32,32,45,40,60,48,80,56,105,64,135,72,170,80,210,88,260,96,320,104,390,112,470,120,560,128,660,136,760,144,860,152,960,160,1050,168,1150,176,1250,184,1350,192,1450,200,1550,208,1650],
[0,10,4,8,8,7,12,9,16,6,20,8,24,11,28,9,32,6,36,4,40,5,44,3,48,2,52,3,56,5,60,4,64,2,68,1,72,2,76,1,80,0.5,84,1,88,2,92,3,96,2,100,4,104,6,108,5,112,3,116,2,120,1,124,2,128,1,132,0.5,136,0],
[0,10,6,18,12,28,18,40,24,55,30,70,36,90,42,110,48,130,54,150,60,170,66,160,72,150,78,140,84,130,90,120,96,110,102,100,108,95,114,90,120,85,126,80,132,78,138,76,144,80,150,85,156,90,162,100,168,110,174,120,180,130],
[0,10,5,25,10,60,15,120,20,200,25,280,30,330,35,300,40,250,45,200,50,160,55,130,60,110,65,95,70,85,75,80,80,90,85,110,90,140,95,180,100,230,105,300,110,380,115,460,120,520,125,560,130,580,135,560,140,520,145,480,150,450,155,430,160,420,165,440,170,470,175,500],
[0,10,3,9,6,8,9,10,12,13,15,17,18,22,21,28,24,25,27,20,30,16,33,12,36,10,39,8,42,11,45,15,48,20,51,26,54,33,57,40,60,36,63,30,66,25,69,21,72,17,75,14,78,11,81,9,84,7,87,5,90,4,93,3,96,4,99,6,102,8,105,11,108,14,111,18,114,22,117,27,120,32],
[0,10,6,22,12,45,18,85,24,150,30,240,36,350,42,480,48,620,54,760,60,900,66,1000,72,1050,78,1000,84,920,90,850,96,780,102,720,108,680,114,650,120,640,126,660,132,700,138,760,144,830,150,900,156,980,162,1060,168,1150,174,1250,180,1350,186,1450,192,1550,198,1650,204,1800],
[0,10,4,13,8,18,12,24,16,20,20,16,24,12,28,9,32,6,36,4,40,3,44,2,48,1,52,0.5,56,0,62,0,68,0.5,74,1,80,2,86,1,92,0.5,98,0,104,0,110,0.3,116,0]
];

// ---------- layout ----------
const svg = d3.select("#chart");
const W = 800, H = 504;
svg.append("rect").attr("width",W).attr("height",H).attr("fill","#fff1e5");

const x = d3.scaleLinear().domain([0, 275]).range([59, 747.6]);
const y = d3.scaleSymlog().constant(1).domain([0, 100000]).range([426, 80]);

const textGrey = "#66605c";
const gridCol = "#e9dccf";

// title
svg.append("text").attr("x",13).attr("y",21).attr("fill","#33302e")
  .style("font-size","15.5px").attr("textLength",659).attr("lengthAdjust","spacingAndGlyphs")
  .text(titleText);
svg.append("text").attr("x",13).attr("y",41.5).attr("fill",textGrey)
  .style("font-size","11.5px").attr("textLength",463).attr("lengthAdjust","spacingAndGlyphs")
  .text(subtitleText);

// grid
const grid = svg.append("g");
grid.selectAll("line.h").data(yTicks.filter(d=>d>0)).join("line")
  .attr("x1",59).attr("x2",747.6).attr("y1",d=>y(d)).attr("y2",d=>y(d))
  .attr("stroke",gridCol).attr("stroke-width",1);
grid.selectAll("line.v").data(xTicks).join("line")
  .attr("x1",d=>x(d)).attr("x2",d=>x(d)).attr("y1",62).attr("y2",426)
  .attr("stroke",gridCol).attr("stroke-width",1);

// y axis labels
const yAxis = d3.axisLeft(y).tickValues(yTicks).tickSize(0).tickPadding(3).tickFormat(d3.format(","));
const yg = svg.append("g").attr("transform","translate(59,0)").call(yAxis);
yg.select(".domain").remove();
yg.selectAll("text").attr("fill",textGrey).style("font-size","11.5px").style("font-family","Lato,'Noto Sans',sans-serif");

// x axis
const xAxis = d3.axisBottom(x).tickValues(xTicks).tickSize(0).tickPadding(7);
const xg = svg.append("g").attr("transform","translate(0,426)").call(xAxis);
xg.select(".domain").remove();
xg.selectAll("text").attr("fill",textGrey).style("font-size","11.5px").style("font-family","Lato,'Noto Sans',sans-serif");

// lines
const line = d3.line().x(d=>x(d[0])).y(d=>y(d[1]));
const toPairs = arr => d3.range(0, arr.length, 2).map(i => [arr[i], arr[i+1]]);

svg.append("g").selectAll("path").data(greyLines.map(toPairs)).join("path")
  .attr("d", line).attr("fill","none").attr("stroke","#bfb6ad").attr("stroke-width",1)
  .attr("stroke-linejoin","round");

// baseline
svg.append("line").attr("x1",59).attr("x2",747.6).attr("y1",426).attr("y2",426)
  .attr("stroke","#a39d98").attr("stroke-width",1.2);

const hl = svg.append("g");
countrySeries.forEach((s,i)=>{
  hl.append("path").datum(s).attr("d",line).attr("fill","none")
    .attr("stroke",countryColors[i]).attr("stroke-width",2).attr("stroke-linejoin","round");
});
countrySeries.forEach((s,i)=>{
  const last = s[s.length-1];
  hl.append("circle").attr("cx",x(last[0])).attr("cy",y(last[1])).attr("r",3.8).attr("fill",countryColors[i]);
  hl.append("text").attr("x",x(last[0])+8).attr("y",y(last[1])).attr("dy","0.35em")
    .attr("fill",countryColors[i]).style("font-size","11.5px").text(countries[i]);
});

// x axis title
svg.append("text").attr("x",60).attr("y",454).attr("fill",textGrey)
  .style("font-size","11.5px").attr("textLength",267).attr("lengthAdjust","spacingAndGlyphs")
  .text(xAxisTitle);

// footer
const srcLens = [459, 221, 281];
sourceLines.forEach((t,i)=>{
  svg.append("text").attr("x",11).attr("y",470 + i*8.6).attr("fill",textGrey)
    .style("font-size","8.3px").attr("textLength",srcLens[i]).attr("lengthAdjust","spacingAndGlyphs").text(t);
});
svg.append("text").attr("x",662).attr("y",470).attr("fill","#9e9893")
  .style("font-family","'Liberation Serif','DejaVu Serif',serif").style("font-size","15px")
  .attr("textLength",126).attr("lengthAdjust","spacingAndGlyphs").text(brandText);
</script>
</body></html>
